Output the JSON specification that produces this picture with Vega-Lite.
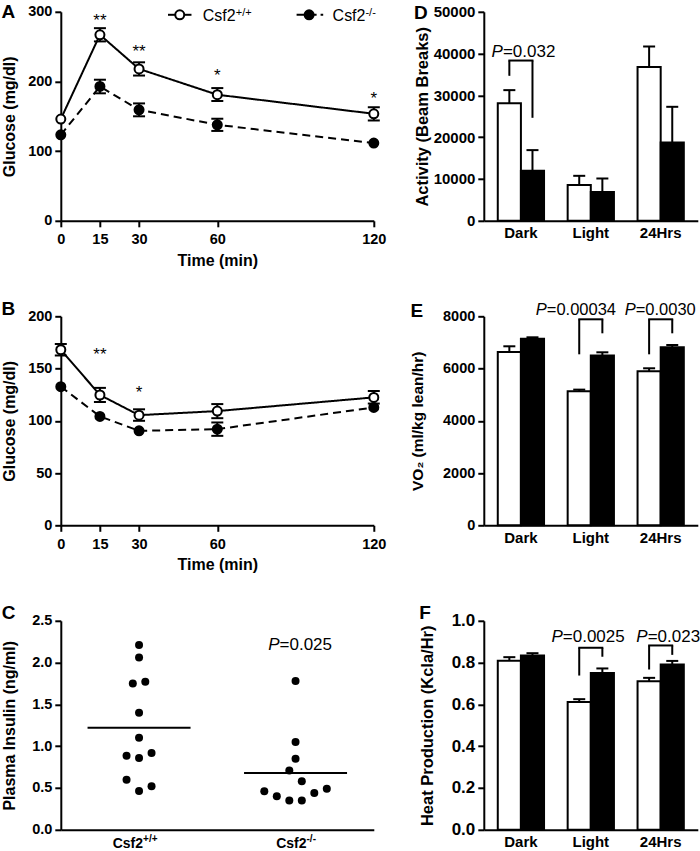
{
  "$schema": "https://vega.github.io/schema/vega-lite/v6.json",
  "padding": {"left": 0.8, "top": 2.8, "right": 0, "bottom": 0},
  "bounds": "flush",
  "columns": 2,
  "spacing": {"row": 95.5, "column": 110},
  "datasets": {
    "glucA": [
      {"geno": "WT", "t": 0, "mean": 146, "lo": null, "hi": null},
      {"geno": "WT", "t": 15, "mean": 267, "lo": 257.5, "hi": 276.5},
      {"geno": "WT", "t": 30, "mean": 218, "lo": 208.5, "hi": 227.5},
      {"geno": "WT", "t": 60, "mean": 181, "lo": 172, "hi": 190.5},
      {"geno": "WT", "t": 120, "mean": 153.6, "lo": 144, "hi": 163},
      {"geno": "KO", "t": 0, "mean": 123.4, "lo": null, "hi": null},
      {"geno": "KO", "t": 15, "mean": 192.8, "lo": 183, "hi": 202.5},
      {"geno": "KO", "t": 30, "mean": 159.3, "lo": 150, "hi": 168.5},
      {"geno": "KO", "t": 60, "mean": 137.8, "lo": 129, "hi": 146.5},
      {"geno": "KO", "t": 120, "mean": 111.5, "lo": null, "hi": null}
    ],
    "starsA": [
      {"t": 15, "y": 279, "label": "**"},
      {"t": 30, "y": 235, "label": "**"},
      {"t": 60, "y": 201, "label": "*"},
      {"t": 120, "y": 167, "label": "*"}
    ],
    "glucB": [
      {"geno": "WT", "t": 0, "mean": 168, "lo": 162.5, "hi": 173.5},
      {"geno": "WT", "t": 15, "mean": 124.7, "lo": 118, "hi": 131.5},
      {"geno": "WT", "t": 30, "mean": 105.4, "lo": 100, "hi": 111},
      {"geno": "WT", "t": 60, "mean": 109.3, "lo": 102.5, "hi": 116},
      {"geno": "WT", "t": 120, "mean": 122.4, "lo": 116.5, "hi": 128.5},
      {"geno": "KO", "t": 0, "mean": 132.7, "lo": null, "hi": null},
      {"geno": "KO", "t": 15, "mean": 104.2, "lo": null, "hi": null},
      {"geno": "KO", "t": 30, "mean": 90.4, "lo": null, "hi": null},
      {"geno": "KO", "t": 60, "mean": 92, "lo": 85.6, "hi": 98.4},
      {"geno": "KO", "t": 120, "mean": 112.8, "lo": null, "hi": null}
    ],
    "starsB": [
      {"t": 15, "y": 158, "label": "**"},
      {"t": 30, "y": 122, "label": "*"}
    ],
    "insulin": [
      {"geno": "WT", "slot": 0, "ins": 2.21},
      {"geno": "WT", "slot": 0, "ins": 2.06},
      {"geno": "WT", "slot": -1, "ins": 1.75},
      {"geno": "WT", "slot": 1, "ins": 1.77},
      {"geno": "WT", "slot": 0, "ins": 1.40},
      {"geno": "WT", "slot": 0, "ins": 1.10},
      {"geno": "WT", "slot": -2, "ins": 0.885},
      {"geno": "WT", "slot": 0, "ins": 0.86},
      {"geno": "WT", "slot": 2, "ins": 0.92},
      {"geno": "WT", "slot": -2, "ins": 0.60},
      {"geno": "WT", "slot": 0, "ins": 0.465},
      {"geno": "WT", "slot": 2, "ins": 0.52},
      {"geno": "KO", "slot": 0, "ins": 1.78},
      {"geno": "KO", "slot": 0, "ins": 1.05},
      {"geno": "KO", "slot": 0, "ins": 0.85},
      {"geno": "KO", "slot": -1, "ins": 0.71},
      {"geno": "KO", "slot": 1, "ins": 0.58},
      {"geno": "KO", "slot": -5, "ins": 0.46},
      {"geno": "KO", "slot": -3, "ins": 0.40},
      {"geno": "KO", "slot": -1, "ins": 0.35},
      {"geno": "KO", "slot": 1, "ins": 0.35},
      {"geno": "KO", "slot": 3, "ins": 0.44},
      {"geno": "KO", "slot": 5, "ins": 0.49}
    ],
    "insMean": [
      {"geno": "WT", "mean": 1.22},
      {"geno": "KO", "mean": 0.68}
    ],
    "barsD": [
      {"phase": "Dark", "geno": "WT", "mean": 28150, "err": 31260},
      {"phase": "Dark", "geno": "KO", "mean": 11960, "err": 16910},
      {"phase": "Light", "geno": "WT", "mean": 8540, "err": 10760},
      {"phase": "Light", "geno": "KO", "mean": 6860, "err": 10120},
      {"phase": "24Hrs", "geno": "WT", "mean": 36770, "err": 41700},
      {"phase": "24Hrs", "geno": "KO", "mean": 18730, "err": 27270}
    ],
    "brD": [
      {"phase": "Dark", "yl": 34680, "yt": 38340, "yr": 24640}
    ],
    "barsE": [
      {"phase": "Dark", "geno": "WT", "mean": 6634, "err": 6852},
      {"phase": "Dark", "geno": "KO", "mean": 7145, "err": 7196},
      {"phase": "Light", "geno": "WT", "mean": 5129, "err": 5193},
      {"phase": "Light", "geno": "KO", "mean": 6495, "err": 6622},
      {"phase": "24Hrs", "geno": "WT", "mean": 5895, "err": 6010},
      {"phase": "24Hrs", "geno": "KO", "mean": 6813, "err": 6902}
    ],
    "brE": [
      {"phase": "Light", "yl": 6545, "yt": 7885, "yr": 7349},
      {"phase": "24Hrs", "yl": 6545, "yt": 7885, "yr": 7349}
    ],
    "barsF": [
      {"phase": "Dark", "geno": "WT", "mean": 0.809, "err": 0.826},
      {"phase": "Dark", "geno": "KO", "mean": 0.834, "err": 0.845},
      {"phase": "Light", "geno": "WT", "mean": 0.611, "err": 0.625},
      {"phase": "Light", "geno": "KO", "mean": 0.750, "err": 0.772},
      {"phase": "24Hrs", "geno": "WT", "mean": 0.711, "err": 0.727},
      {"phase": "24Hrs", "geno": "KO", "mean": 0.791, "err": 0.808}
    ],
    "brF": [
      {"phase": "Light", "yl": 0.738, "yt": 0.871, "yr": 0.828},
      {"phase": "24Hrs", "yl": 0.767, "yt": 0.882, "yr": 0.837}
    ]
  },
  "concat": [
    {
      "width": 313, "height": 209,
      "title": {"text": "A", "dy": 22.25},
      "layer": [
        {"data": {"name": "glucA"},
         "mark": {"type": "rule", "color": "black", "strokeWidth": 2},
         "encoding": {
           "x": {"field": "t", "type": "quantitative", "scale": {"domain": [0, 120], "nice": false},
                 "axis": {"values": [0, 15, 30, 60, 120], "title": "Time (min)", "tickSize": 6, "labelPadding": 6, "titlePadding": 6}},
           "y": {"field": "lo", "type": "quantitative", "scale": {"domain": [0, 300], "nice": false},
                 "axis": {"values": [0, 100, 200, 300], "title": "Glucose (mg/dl)", "titlePadding": 10}},
           "y2": {"field": "hi"}}},
        {"data": {"name": "glucA"},
         "mark": {"type": "tick", "orient": "horizontal", "color": "black", "size": 12, "thickness": 2, "opacity": 1},
         "encoding": {"x": {"field": "t", "type": "quantitative"}, "y": {"field": "hi", "type": "quantitative"}}},
        {"data": {"name": "glucA"},
         "mark": {"type": "tick", "orient": "horizontal", "color": "black", "size": 12, "thickness": 2, "opacity": 1},
         "encoding": {"x": {"field": "t", "type": "quantitative"}, "y": {"field": "lo", "type": "quantitative"}}},
        {"data": {"name": "glucA"},
         "mark": {"type": "line", "color": "black", "strokeWidth": 2},
         "encoding": {"x": {"field": "t", "type": "quantitative"}, "y": {"field": "mean", "type": "quantitative"},
           "strokeDash": {"field": "geno", "type": "nominal", "scale": {"domain": ["WT", "KO"], "range": [[1, 0], [8, 5]]}, "legend": null}}},
        {"data": {"name": "glucA"},
         "mark": {"type": "point", "shape": "circle", "filled": true, "stroke": "black", "strokeWidth": 2, "size": 81, "opacity": 1},
         "encoding": {"x": {"field": "t", "type": "quantitative"}, "y": {"field": "mean", "type": "quantitative"},
           "fill": {"field": "geno", "type": "nominal", "scale": {"domain": ["WT", "KO"], "range": ["white", "black"]}, "legend": null}}},
        {"data": {"name": "starsA"},
         "mark": {"type": "text", "fontSize": 17, "baseline": "alphabetic", "color": "black"},
         "encoding": {"x": {"field": "t", "type": "quantitative"}, "y": {"field": "y", "type": "quantitative"}, "text": {"field": "label"}}},
        {"data": {"values": [{}]},
         "mark": {"type": "rule", "color": "black", "strokeWidth": 2},
         "encoding": {"x": {"datum": 41.1}, "x2": {"datum": 50.1}, "y": {"datum": 295.7}}},
        {"data": {"values": [{}]},
         "mark": {"type": "point", "shape": "circle", "filled": true, "fill": "white", "stroke": "black", "strokeWidth": 2, "size": 81, "opacity": 1},
         "encoding": {"x": {"datum": 45.6}, "y": {"datum": 295.7}}},
        {"data": {"values": [{}]},
         "mark": {"type": "text", "text": "Csf2", "fontSize": 16, "align": "left", "baseline": "alphabetic", "color": "black"},
         "encoding": {"x": {"datum": 54.4}, "y": {"datum": 286.1}}},
        {"data": {"values": [{}]},
         "mark": {"type": "text", "text": "+/+", "fontSize": 11, "align": "left", "baseline": "alphabetic", "color": "black"},
         "encoding": {"x": {"datum": 67.1}, "y": {"datum": 294.2}}},
        {"data": {"values": [{}]},
         "mark": {"type": "rule", "color": "black", "strokeWidth": 2, "strokeDash": [8, 4]},
         "encoding": {"x": {"datum": 90.4}, "x2": {"datum": 100.6}, "y": {"datum": 295.7}}},
        {"data": {"values": [{}]},
         "mark": {"type": "point", "shape": "circle", "filled": true, "fill": "black", "stroke": "black", "strokeWidth": 2, "size": 81, "opacity": 1},
         "encoding": {"x": {"datum": 95.2}, "y": {"datum": 295.7}}},
        {"data": {"values": [{}]},
         "mark": {"type": "text", "text": "Csf2", "fontSize": 16, "align": "left", "baseline": "alphabetic", "color": "black"},
         "encoding": {"x": {"datum": 104.2}, "y": {"datum": 286.1}}},
        {"data": {"values": [{}]},
         "mark": {"type": "text", "text": "-/-", "fontSize": 11, "align": "left", "baseline": "alphabetic", "color": "black"},
         "encoding": {"x": {"datum": 116.8}, "y": {"datum": 294.2}}}
      ]
    },
    {
      "width": 214, "height": 209,
      "title": {"text": "D", "dy": 22.5},
      "layer": [
        {"data": {"name": "barsD"},
         "mark": {"type": "bar", "stroke": "black", "strokeWidth": 2},
         "encoding": {
           "x": {"field": "phase", "type": "nominal", "scale": {"domain": ["Dark", "Light", "24Hrs"], "paddingInner": 0.338, "paddingOuter": 0.2},
                 "axis": {"title": null, "ticks": false, "tickSize": 0, "labelPadding": 5, "labelFontSize": 15, "labelAngle": 0}},
           "xOffset": {"field": "geno", "type": "nominal", "scale": {"domain": ["WT", "KO"], "paddingInner": 0, "paddingOuter": 0}},
           "y": {"field": "mean", "type": "quantitative", "scale": {"domain": [0, 50000], "nice": false},
                 "axis": {"values": [0, 10000, 20000, 30000, 40000, 50000], "format": "d", "title": "Activity (Beam Breaks)", "titlePadding": 3, "labelFontSize": 15, "titleFontSize": 16.5}},
           "fill": {"field": "geno", "type": "nominal", "scale": {"domain": ["WT", "KO"], "range": ["white", "#111111"]}, "legend": null}}},
        {"data": {"name": "barsD"},
         "mark": {"type": "rule", "color": "black", "strokeWidth": 2},
         "encoding": {"x": {"field": "phase", "type": "nominal"}, "xOffset": {"field": "geno", "type": "nominal"},
           "y": {"field": "mean", "type": "quantitative"}, "y2": {"field": "err"}}},
        {"data": {"name": "barsD"},
         "mark": {"type": "tick", "orient": "horizontal", "color": "black", "size": 12, "thickness": 2, "opacity": 1},
         "encoding": {"x": {"field": "phase", "type": "nominal"}, "xOffset": {"field": "geno", "type": "nominal"},
           "y": {"field": "err", "type": "quantitative"}}},
        {"data": {"name": "brD"},
         "mark": {"type": "rule", "color": "black", "strokeWidth": 2},
         "encoding": {"x": {"field": "phase", "type": "nominal", "bandPosition": 0.25}, "y": {"field": "yl", "type": "quantitative"}, "y2": {"field": "yt"}}},
        {"data": {"name": "brD"},
         "mark": {"type": "rule", "color": "black", "strokeWidth": 2},
         "encoding": {"x": {"field": "phase", "type": "nominal", "bandPosition": 0.75}, "y": {"field": "yr", "type": "quantitative"}, "y2": {"field": "yt"}}},
        {"data": {"name": "brD"},
         "mark": {"type": "tick", "orient": "horizontal", "color": "black", "size": 25, "thickness": 2, "opacity": 1},
         "encoding": {"x": {"field": "phase", "type": "nominal"}, "y": {"field": "yt", "type": "quantitative"}}},
        {"data": {"values": [{}]},
         "mark": {"type": "text", "text": "P", "fontStyle": "italic", "fontSize": 17, "align": "right", "baseline": "alphabetic", "dx": -18, "color": "black"},
         "encoding": {"x": {"datum": "Dark"}, "y": {"datum": 39300}}},
        {"data": {"values": [{}]},
         "mark": {"type": "text", "text": "=0.032", "fontSize": 17, "align": "left", "baseline": "alphabetic", "dx": -18, "color": "black"},
         "encoding": {"x": {"datum": "Dark"}, "y": {"datum": 39300}}}
      ]
    },
    {
      "width": 313, "height": 209,
      "title": {"text": "B", "dy": 14.25},
      "layer": [
        {"data": {"name": "glucB"},
         "mark": {"type": "rule", "color": "black", "strokeWidth": 2},
         "encoding": {
           "x": {"field": "t", "type": "quantitative", "scale": {"domain": [0, 120], "nice": false},
                 "axis": {"values": [0, 15, 30, 60, 120], "title": "Time (min)", "tickSize": 6, "labelPadding": 6, "titlePadding": 6}},
           "y": {"field": "lo", "type": "quantitative", "scale": {"domain": [0, 200], "nice": false},
                 "axis": {"values": [0, 50, 100, 150, 200], "title": "Glucose (mg/dl)", "titlePadding": 10}},
           "y2": {"field": "hi"}}},
        {"data": {"name": "glucB"},
         "mark": {"type": "tick", "orient": "horizontal", "color": "black", "size": 12, "thickness": 2, "opacity": 1},
         "encoding": {"x": {"field": "t", "type": "quantitative"}, "y": {"field": "hi", "type": "quantitative"}}},
        {"data": {"name": "glucB"},
         "mark": {"type": "tick", "orient": "horizontal", "color": "black", "size": 12, "thickness": 2, "opacity": 1},
         "encoding": {"x": {"field": "t", "type": "quantitative"}, "y": {"field": "lo", "type": "quantitative"}}},
        {"data": {"name": "glucB"},
         "mark": {"type": "line", "color": "black", "strokeWidth": 2},
         "encoding": {"x": {"field": "t", "type": "quantitative"}, "y": {"field": "mean", "type": "quantitative"},
           "strokeDash": {"field": "geno", "type": "nominal", "scale": {"domain": ["WT", "KO"], "range": [[1, 0], [8, 5]]}, "legend": null}}},
        {"data": {"name": "glucB"},
         "mark": {"type": "point", "shape": "circle", "filled": true, "stroke": "black", "strokeWidth": 2, "size": 81, "opacity": 1},
         "encoding": {"x": {"field": "t", "type": "quantitative"}, "y": {"field": "mean", "type": "quantitative"},
           "fill": {"field": "geno", "type": "nominal", "scale": {"domain": ["WT", "KO"], "range": ["white", "black"]}, "legend": null}}},
        {"data": {"name": "starsB"},
         "mark": {"type": "text", "fontSize": 17, "baseline": "alphabetic", "color": "black"},
         "encoding": {"x": {"field": "t", "type": "quantitative"}, "y": {"field": "y", "type": "quantitative"}, "text": {"field": "label"}}}
      ]
    },
    {
      "width": 214, "height": 209,
      "title": {"text": "E", "dy": 22.9},
      "layer": [
        {"data": {"name": "barsE"},
         "mark": {"type": "bar", "stroke": "black", "strokeWidth": 2},
         "encoding": {
           "x": {"field": "phase", "type": "nominal", "scale": {"domain": ["Dark", "Light", "24Hrs"], "paddingInner": 0.338, "paddingOuter": 0.2},
                 "axis": {"title": null, "ticks": false, "tickSize": 0, "labelPadding": 5, "labelFontSize": 15, "labelAngle": 0}},
           "xOffset": {"field": "geno", "type": "nominal", "scale": {"domain": ["WT", "KO"], "paddingInner": 0, "paddingOuter": 0}},
           "y": {"field": "mean", "type": "quantitative", "scale": {"domain": [0, 8000], "nice": false},
                 "axis": {"values": [0, 2000, 4000, 6000, 8000], "format": "d", "title": "VO₂ (ml/kg lean/hr)", "titlePadding": 17, "titleFontSize": 15.5}},
           "fill": {"field": "geno", "type": "nominal", "scale": {"domain": ["WT", "KO"], "range": ["white", "#111111"]}, "legend": null}}},
        {"data": {"name": "barsE"},
         "mark": {"type": "rule", "color": "black", "strokeWidth": 2},
         "encoding": {"x": {"field": "phase", "type": "nominal"}, "xOffset": {"field": "geno", "type": "nominal"},
           "y": {"field": "mean", "type": "quantitative"}, "y2": {"field": "err"}}},
        {"data": {"name": "barsE"},
         "mark": {"type": "tick", "orient": "horizontal", "color": "black", "size": 12, "thickness": 2, "opacity": 1},
         "encoding": {"x": {"field": "phase", "type": "nominal"}, "xOffset": {"field": "geno", "type": "nominal"},
           "y": {"field": "err", "type": "quantitative"}}},
        {"data": {"name": "brE"},
         "mark": {"type": "rule", "color": "black", "strokeWidth": 2},
         "encoding": {"x": {"field": "phase", "type": "nominal", "bandPosition": 0.25}, "y": {"field": "yl", "type": "quantitative"}, "y2": {"field": "yt"}}},
        {"data": {"name": "brE"},
         "mark": {"type": "rule", "color": "black", "strokeWidth": 2},
         "encoding": {"x": {"field": "phase", "type": "nominal", "bandPosition": 0.75}, "y": {"field": "yr", "type": "quantitative"}, "y2": {"field": "yt"}}},
        {"data": {"name": "brE"},
         "mark": {"type": "tick", "orient": "horizontal", "color": "black", "size": 25, "thickness": 2, "opacity": 1},
         "encoding": {"x": {"field": "phase", "type": "nominal"}, "y": {"field": "yt", "type": "quantitative"}}},
        {"data": {"values": [{}]},
         "mark": {"type": "text", "text": "P", "fontStyle": "italic", "fontSize": 16.5, "align": "right", "baseline": "alphabetic", "dx": -44, "color": "black"},
         "encoding": {"x": {"datum": "Light"}, "y": {"datum": 8065}}},
        {"data": {"values": [{}]},
         "mark": {"type": "text", "text": "=0.00034", "fontSize": 16.5, "align": "left", "baseline": "alphabetic", "dx": -44, "color": "black"},
         "encoding": {"x": {"datum": "Light"}, "y": {"datum": 8065}}},
        {"data": {"values": [{}]},
         "mark": {"type": "text", "text": "P", "fontStyle": "italic", "fontSize": 16.5, "align": "right", "baseline": "alphabetic", "dx": -25, "color": "black"},
         "encoding": {"x": {"datum": "24Hrs"}, "y": {"datum": 8065}}},
        {"data": {"values": [{}]},
         "mark": {"type": "text", "text": "=0.0030", "fontSize": 16.5, "align": "left", "baseline": "alphabetic", "dx": -25, "color": "black"},
         "encoding": {"x": {"datum": "24Hrs"}, "y": {"datum": 8065}}}
      ]
    },
    {
      "width": 313, "height": 209,
      "title": {"text": "C", "dy": 14.25},
      "layer": [
        {"data": {"name": "insulin"},
         "mark": {"type": "circle", "color": "black", "size": 64, "opacity": 1},
         "encoding": {
           "x": {"field": "geno", "type": "nominal", "scale": {"domain": ["WT", "KO"], "paddingInner": 0, "paddingOuter": 0},
                 "axis": {"title": null, "labels": false, "ticks": false, "tickSize": 0}},
           "xOffset": {"field": "slot", "type": "quantitative", "scale": {"domain": [-12.52, 12.52], "range": [0, 156.5]}},
           "y": {"field": "ins", "type": "quantitative", "scale": {"domain": [0, 2.5], "nice": false},
                 "axis": {"values": [0, 0.5, 1, 1.5, 2, 2.5], "format": ".1f", "title": "Plasma Insulin (ng/ml)", "titlePadding": 14}}}},
        {"data": {"name": "insMean"},
         "mark": {"type": "tick", "orient": "horizontal", "color": "black", "size": 103, "thickness": 2, "opacity": 1},
         "encoding": {"x": {"field": "geno", "type": "nominal"}, "y": {"field": "mean", "type": "quantitative"}}},
        {"data": {"values": [{}]},
         "mark": {"type": "text", "text": "P", "fontStyle": "italic", "fontSize": 17, "align": "right", "baseline": "alphabetic", "dx": -16, "color": "black"},
         "encoding": {"x": {"datum": "KO"}, "y": {"datum": 2.153}}},
        {"data": {"values": [{}]},
         "mark": {"type": "text", "text": "=0.025", "fontSize": 17, "align": "left", "baseline": "alphabetic", "dx": -16, "color": "black"},
         "encoding": {"x": {"datum": "KO"}, "y": {"datum": 2.153}}},
        {"data": {"values": [{}]},
         "mark": {"type": "text", "text": "Csf2", "fontSize": 14, "fontWeight": "bold", "align": "right", "baseline": "alphabetic", "dx": 4, "color": "black"},
         "encoding": {"x": {"datum": "WT"}, "y": {"datum": -0.215}}},
        {"data": {"values": [{}]},
         "mark": {"type": "text", "text": "+/+", "fontSize": 10, "fontWeight": "bold", "align": "left", "baseline": "alphabetic", "dx": 4, "color": "black"},
         "encoding": {"x": {"datum": "WT"}, "y": {"datum": -0.144}}},
        {"data": {"values": [{}]},
         "mark": {"type": "text", "text": "Csf2", "fontSize": 14, "fontWeight": "bold", "align": "right", "baseline": "alphabetic", "dx": 11, "color": "black"},
         "encoding": {"x": {"datum": "KO"}, "y": {"datum": -0.215}}},
        {"data": {"values": [{}]},
         "mark": {"type": "text", "text": "-/-", "fontSize": 10, "fontWeight": "bold", "align": "left", "baseline": "alphabetic", "dx": 11, "color": "black"},
         "encoding": {"x": {"datum": "KO"}, "y": {"datum": -0.144}}}
      ]
    },
    {
      "width": 214, "height": 209,
      "title": {"text": "F", "dy": 15.5},
      "layer": [
        {"data": {"name": "barsF"},
         "mark": {"type": "bar", "stroke": "black", "strokeWidth": 2},
         "encoding": {
           "x": {"field": "phase", "type": "nominal", "scale": {"domain": ["Dark", "Light", "24Hrs"], "paddingInner": 0.338, "paddingOuter": 0.2},
                 "axis": {"title": null, "ticks": false, "tickSize": 0, "labelPadding": 5, "labelFontSize": 15, "labelAngle": 0}},
           "xOffset": {"field": "geno", "type": "nominal", "scale": {"domain": ["WT", "KO"], "paddingInner": 0, "paddingOuter": 0}},
           "y": {"field": "mean", "type": "quantitative", "scale": {"domain": [0, 1], "nice": false},
                 "axis": {"values": [0, 0.2, 0.4, 0.6, 0.8, 1.0], "format": ".1f", "title": "Heat Production (Kcla/Hr)", "titlePadding": 16, "labelFontSize": 17, "titleFontSize": 16.5}},
           "fill": {"field": "geno", "type": "nominal", "scale": {"domain": ["WT", "KO"], "range": ["white", "#111111"]}, "legend": null}}},
        {"data": {"name": "barsF"},
         "mark": {"type": "rule", "color": "black", "strokeWidth": 2},
         "encoding": {"x": {"field": "phase", "type": "nominal"}, "xOffset": {"field": "geno", "type": "nominal"},
           "y": {"field": "mean", "type": "quantitative"}, "y2": {"field": "err"}}},
        {"data": {"name": "barsF"},
         "mark": {"type": "tick", "orient": "horizontal", "color": "black", "size": 12, "thickness": 2, "opacity": 1},
         "encoding": {"x": {"field": "phase", "type": "nominal"}, "xOffset": {"field": "geno", "type": "nominal"},
           "y": {"field": "err", "type": "quantitative"}}},
        {"data": {"name": "brF"},
         "mark": {"type": "rule", "color": "black", "strokeWidth": 2},
         "encoding": {"x": {"field": "phase", "type": "nominal", "bandPosition": 0.25}, "y": {"field": "yl", "type": "quantitative"}, "y2": {"field": "yt"}}},
        {"data": {"name": "brF"},
         "mark": {"type": "rule", "color": "black", "strokeWidth": 2},
         "encoding": {"x": {"field": "phase", "type": "nominal", "bandPosition": 0.75}, "y": {"field": "yr", "type": "quantitative"}, "y2": {"field": "yt"}}},
        {"data": {"name": "brF"},
         "mark": {"type": "tick", "orient": "horizontal", "color": "black", "size": 25, "thickness": 2, "opacity": 1},
         "encoding": {"x": {"field": "phase", "type": "nominal"}, "y": {"field": "yt", "type": "quantitative"}}},
        {"data": {"values": [{}]},
         "mark": {"type": "text", "text": "P", "fontStyle": "italic", "fontSize": 17, "align": "right", "baseline": "alphabetic", "dx": -28, "color": "black"},
         "encoding": {"x": {"datum": "Light"}, "y": {"datum": 0.898}}},
        {"data": {"values": [{}]},
         "mark": {"type": "text", "text": "=0.0025", "fontSize": 17, "align": "left", "baseline": "alphabetic", "dx": -28, "color": "black"},
         "encoding": {"x": {"datum": "Light"}, "y": {"datum": 0.898}}},
        {"data": {"values": [{}]},
         "mark": {"type": "text", "text": "P", "fontStyle": "italic", "fontSize": 17, "align": "right", "baseline": "alphabetic", "dx": -13, "color": "black"},
         "encoding": {"x": {"datum": "24Hrs"}, "y": {"datum": 0.898}}},
        {"data": {"values": [{}]},
         "mark": {"type": "text", "text": "=0.023", "fontSize": 17, "align": "left", "baseline": "alphabetic", "dx": -13, "color": "black"},
         "encoding": {"x": {"datum": "24Hrs"}, "y": {"datum": 0.898}}}
      ]
    }
  ],
  "config": {
    "font": "Liberation Sans",
    "view": {"stroke": null},
    "axis": {
      "domainColor": "black", "domainWidth": 2, "tickColor": "black", "tickWidth": 2, "tickSize": 6,
      "labelColor": "black", "labelFontWeight": "bold", "labelFontSize": 14.5, "labelPadding": 3,
      "titleColor": "black", "titleFontWeight": "bold", "titleFontSize": 16,
      "grid": false, "labelFlush": false, "labelOverlap": false
    },
    "title": {"anchor": "start", "frame": "bounds", "orient": "top", "offset": 0, "fontSize": 19, "fontWeight": "bold", "color": "black", "baseline": "bottom"}
  }
}
